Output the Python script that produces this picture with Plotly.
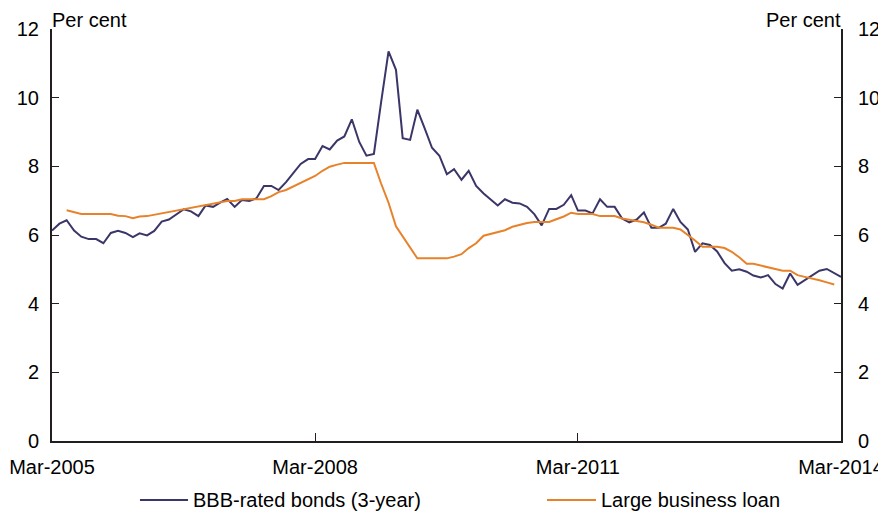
import pandas as pd
import plotly.graph_objects as go

# Monthly observations, Mar-2005 to Mar-2014
dates = list(pd.date_range("2005-03-01", periods=109, freq="MS"))

bbb_bonds = [
    6.13, 6.33, 6.43, 6.13, 5.95, 5.88, 5.88, 5.76, 6.06, 6.12,
    6.06, 5.94, 6.05, 5.99, 6.12, 6.39, 6.45, 6.59, 6.75, 6.69,
    6.55, 6.86, 6.82, 6.95, 7.05, 6.82, 7.02, 6.99, 7.07, 7.43,
    7.43, 7.31, 7.54, 7.80, 8.07, 8.21, 8.21, 8.59, 8.49, 8.75,
    8.87, 9.37, 8.71, 8.31, 8.36, 9.86, 11.35, 10.81, 8.82, 8.77,
    9.65, 9.10, 8.54, 8.31, 7.77, 7.92, 7.61, 7.87, 7.43, 7.21,
    7.04, 6.86, 7.04, 6.94, 6.92, 6.82, 6.60, 6.28, 6.76, 6.76,
    6.88, 7.16, 6.71, 6.71, 6.63, 7.04, 6.82, 6.82, 6.48, 6.37,
    6.45, 6.66, 6.21, 6.21, 6.33, 6.76, 6.38, 6.16, 5.51, 5.76,
    5.71, 5.52, 5.18, 4.96, 5.00, 4.93, 4.82, 4.76, 4.83, 4.57,
    4.44, 4.88, 4.55, 4.69, 4.83, 4.96, 5.01, 4.90, 4.78,
]

large_business_loan = [
    None, None, 6.72, 6.66, 6.61, 6.61, 6.61, 6.61, 6.61, 6.56,
    6.55, 6.49, 6.54, 6.55, 6.59, 6.62, 6.67, 6.72, 6.75, 6.78,
    6.84, 6.88, 6.92, 6.95, 6.99, 6.99, 7.04, 7.04, 7.04, 7.04,
    7.13, 7.25, 7.31, 7.41, 7.53, 7.61, 7.72, 7.87, 7.99, 8.05,
    8.10, 8.10, 8.10, 8.10, 8.10, 7.50, 6.94, 6.25, 5.96, 5.66,
    5.32, 5.32, 5.32, 5.32, 5.32, 5.37, 5.44, 5.62, 5.76, 5.98,
    6.03, 6.08, 6.14, 6.24, 6.30, 6.35, 6.38, 6.38, 6.38, 6.46,
    6.54, 6.65, 6.61, 6.61, 6.61, 6.55, 6.55, 6.55, 6.48, 6.45,
    6.42, 6.37, 6.30, 6.21, 6.21, 6.21, 6.16, 6.01, 5.84, 5.66,
    5.66, 5.66, 5.62, 5.51, 5.35, 5.16, 5.16, 5.11, 5.06, 5.01,
    4.96, 4.96, 4.83, 4.78, 4.74, 4.68, 4.62, 4.56, None,
]

series_names = ["BBB-rated bonds (3-year)", "Large business loan"]
x_tick_dates = ["2005-03-01", "2008-03-01", "2011-03-01", "2014-03-01"]
x_tick_labels = ["Mar-2005", "Mar-2008", "Mar-2011", "Mar-2014"]
y_ticks = [0, 2, 4, 6, 8, 10, 12]
unit_label = "Per cent"

NAVY = "#3a3668"
ORANGE = "#e8822a"
AXIS = "#231f20"
FONT = "Liberation Sans, Arial, sans-serif"
FS = 20

fig = go.Figure()
fig.add_trace(go.Scatter(x=dates, y=bbb_bonds, name=series_names[0], mode="lines",
                         line=dict(color=NAVY, width=2), showlegend=False))
fig.add_trace(go.Scatter(x=dates, y=large_business_loan, name=series_names[1], mode="lines",
                         line=dict(color=ORANGE, width=2), yaxis="y2", showlegend=False))

axis_common = dict(range=[0, 12], tickvals=y_ticks, ticks="inside", ticklen=7, tickwidth=1,
                   tickcolor=AXIS, showline=True, linecolor=AXIS, linewidth=2,
                   showgrid=False, zeroline=False, fixedrange=True, automargin=False,
                   tickfont=dict(family=FONT, size=FS, color="black"))

# manual legend (line sample + label) placed below the plot
legend_shapes = []
legend_annotations = []
legend_items = [(series_names[0], NAVY, 0.1115, 0.1724),
                (series_names[1], ORANGE, 0.6274, 0.6895)]
for name, color, x0, x1 in legend_items:
    legend_shapes.append(dict(type="line", xref="paper", yref="paper", x0=x0, x1=x1,
                              y0=-0.143, y1=-0.143, line=dict(color=color, width=2)))
    legend_annotations.append(dict(text=name, xref="paper", yref="paper", x=x1 + 0.004,
                                   y=-0.143, xanchor="left", yanchor="middle",
                                   showarrow=False, font=dict(family=FONT, size=FS)))

# the page body adds an 8px offset; figure size and margins compensate so the
# whole figure fits the 886x516 window with the plot where the reference has it
fig.update_layout(
    width=878, height=508,
    margin=dict(l=44, r=45, t=21, b=75),
    paper_bgcolor="white", plot_bgcolor="white",
    font=dict(family=FONT, size=FS, color="black"),
    xaxis=dict(range=[x_tick_dates[0], x_tick_dates[-1]], tickvals=x_tick_dates,
               ticktext=x_tick_labels, ticks="inside", ticklen=8, tickwidth=1,
               tickcolor=AXIS, showline=True, linecolor=AXIS, linewidth=2,
               showgrid=False, zeroline=False, ticklabelstandoff=7, automargin=False,
               tickfont=dict(family=FONT, size=FS, color="black")),
    yaxis=dict(side="left", ticklabelstandoff=7, **axis_common),
    yaxis2=dict(side="right", overlaying="y", anchor="x", ticklabelstandoff=11, **axis_common),
    showlegend=False,
    shapes=legend_shapes,
    annotations=[
        dict(text=unit_label, xref="paper", yref="paper", x=0, y=1, xanchor="left",
             yanchor="bottom", yshift=-4, xshift=-2, showarrow=False,
             font=dict(family=FONT, size=FS)),
        dict(text=unit_label, xref="paper", yref="paper", x=1, y=1, xanchor="right",
             yanchor="bottom", yshift=-4, xshift=2, showarrow=False,
             font=dict(family=FONT, size=FS)),
    ] + legend_annotations,
)

fig.write_html("out.html")
